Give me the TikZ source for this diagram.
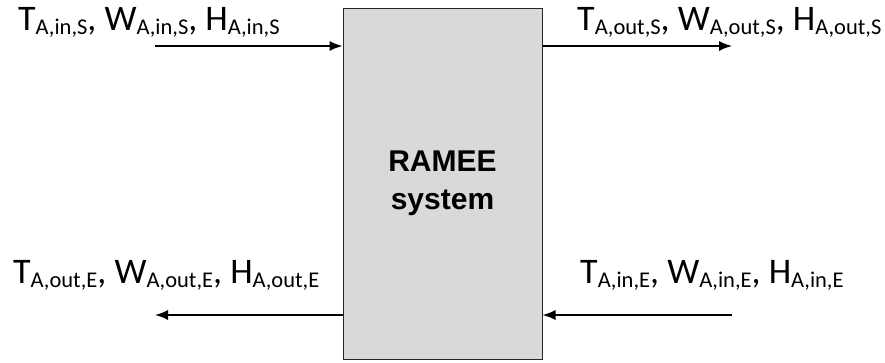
\documentclass[tikz,border=0pt]{standalone}
\usepackage{fontspec}
\setmainfont{Carlito}
\newfontfamily\boxfont{Liberation Sans}
\usetikzlibrary{arrows.meta}
\newcommand{\sbs}[1]{\raisebox{-4pt}{\fontsize{22.5}{22.5}\selectfont #1}}
\tikzset{
  flow/.style={line width=1.5pt, -{Latex[length=13pt,width=10pt]}},
  lbl/.style={anchor=base west, inner sep=0pt, font=\fontsize{36}{36}\selectfont},
  sysbox/.style={draw=black!85, line width=1pt, fill=black!15,
    minimum width=199pt, minimum height=351pt, inner sep=0pt,
    align=center, font=\boxfont\bfseries\fontsize{30}{38}\selectfont}
}
\begin{document}
\begin{tikzpicture}[x=1pt,y=-1pt]
  \useasboundingbox (0,0) rectangle (885,362);
  % central system block
  \node[sysbox] (sys) at (442.5,183.5) {RAMEE\\system};
  % free ends of the four air streams
  \coordinate (inS) at (155,46);
  \coordinate (outS) at (732,46);
  \coordinate (outE) at (155,315);
  \coordinate (inE) at (732,315);
  % supply and exhaust streams
  \draw[flow] (inS) -- (inS -| sys.west);
  \draw[flow] (outS -| sys.east) -- (outS);
  \draw[flow] (outE -| sys.west) -- (outE);
  \draw[flow] (inE) -- (inE -| sys.east);
  % stream state labels
  \node[lbl] (tinS) at (18,30) {T\sbs{A,in,S}, W\sbs{A,in,S}, H\sbs{A,in,S}};
  \node[lbl] (toutS) at (577,30) {T\sbs{A,out,S}, W\sbs{A,out,S}, H\sbs{A,out,S}};
  \node[lbl] (toutE) at (13,283) {T\sbs{A,out,E}, W\sbs{A,out,E}, H\sbs{A,out,E}};
  \node[lbl] (tinE) at (580,283) {T\sbs{A,in,E}, W\sbs{A,in,E}, H\sbs{A,in,E}};
\end{tikzpicture}
\end{document}
